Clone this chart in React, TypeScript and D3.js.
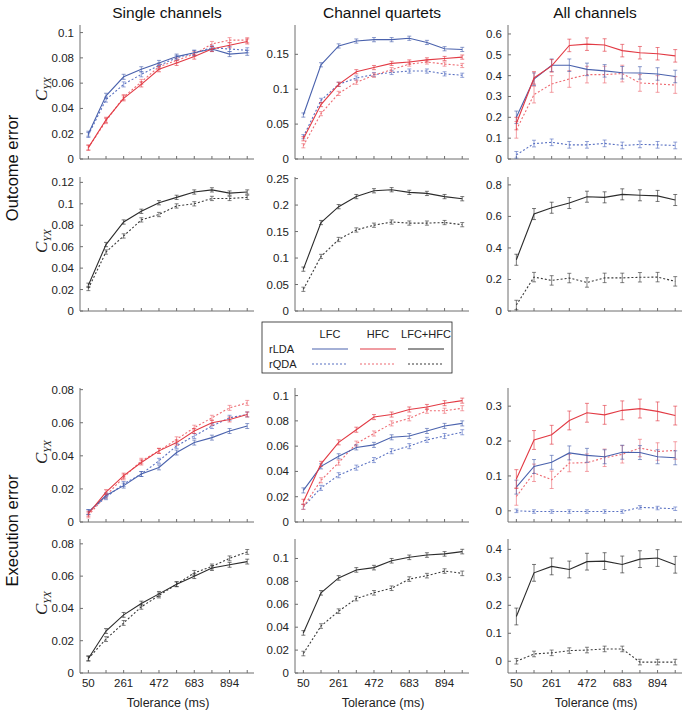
import * as d3 from 'd3'

const tolerance = [50, 155.5, 261, 366.5, 472, 577.5, 683, 788.5, 894, 999.5]
const labeledTicks = [50, 261, 472, 683, 894]
const columnTitles = ['Single channels', 'Channel quartets', 'All channels']
const rowTitles = ['Outcome error', 'Execution error']

// Outcome error, LFC / HFC separately
const oeSingleLdaLfc = [0.020, 0.050, 0.065, 0.071, 0.076, 0.081, 0.084, 0.087, 0.083, 0.084]
const oeSingleQdaLfc = [0.019, 0.047, 0.059, 0.067, 0.074, 0.080, 0.084, 0.088, 0.087, 0.086]
const oeSingleLdaHfc = [0.009, 0.031, 0.048, 0.059, 0.071, 0.076, 0.081, 0.087, 0.090, 0.093]
const oeSingleQdaHfc = [0.009, 0.030, 0.049, 0.061, 0.073, 0.078, 0.083, 0.091, 0.094, 0.094]
const oeQuartLdaLfc = [0.063, 0.135, 0.162, 0.169, 0.171, 0.171, 0.173, 0.167, 0.158, 0.157]
const oeQuartQdaLfc = [0.032, 0.084, 0.107, 0.116, 0.121, 0.124, 0.126, 0.126, 0.122, 0.120]
const oeQuartLdaHfc = [0.029, 0.078, 0.107, 0.125, 0.131, 0.137, 0.139, 0.142, 0.144, 0.146]
const oeQuartQdaHfc = [0.019, 0.065, 0.094, 0.110, 0.120, 0.128, 0.136, 0.139, 0.136, 0.134]
const oeAllLdaLfc = [0.200, 0.383, 0.450, 0.450, 0.430, 0.423, 0.414, 0.413, 0.408, 0.396]
const oeAllQdaLfc = [0.020, 0.074, 0.080, 0.068, 0.068, 0.075, 0.065, 0.070, 0.068, 0.065]
const oeAllLdaHfc = [0.170, 0.389, 0.447, 0.545, 0.551, 0.547, 0.520, 0.510, 0.505, 0.495]
const oeAllQdaHfc = [0.140, 0.309, 0.360, 0.384, 0.405, 0.405, 0.410, 0.365, 0.360, 0.355]

// Outcome error, LFC+HFC
const oeSingleLdaBoth = [0.024, 0.062, 0.083, 0.093, 0.101, 0.106, 0.111, 0.113, 0.110, 0.111]
const oeSingleQdaBoth = [0.021, 0.055, 0.070, 0.085, 0.090, 0.098, 0.100, 0.105, 0.105, 0.106]
const oeQuartLdaBoth = [0.079, 0.167, 0.197, 0.216, 0.227, 0.229, 0.224, 0.222, 0.216, 0.212]
const oeQuartQdaBoth = [0.041, 0.103, 0.135, 0.153, 0.162, 0.168, 0.166, 0.166, 0.167, 0.163]
const oeAllLdaBoth = [0.325, 0.615, 0.655, 0.685, 0.725, 0.721, 0.740, 0.734, 0.730, 0.704]
const oeAllQdaBoth = [0.038, 0.215, 0.194, 0.209, 0.181, 0.210, 0.210, 0.214, 0.215, 0.188]

// Execution error, LFC / HFC separately
const eeSingleLdaLfc = [0.006, 0.016, 0.022, 0.029, 0.033, 0.042, 0.048, 0.051, 0.055, 0.058]
const eeSingleQdaLfc = [0.006, 0.015, 0.023, 0.029, 0.037, 0.046, 0.052, 0.058, 0.063, 0.065]
const eeSingleLdaHfc = [0.005, 0.018, 0.028, 0.036, 0.043, 0.048, 0.055, 0.060, 0.062, 0.065]
const eeSingleQdaHfc = [0.004, 0.016, 0.027, 0.037, 0.043, 0.050, 0.057, 0.063, 0.069, 0.072]
const eeQuartLdaLfc = [0.025, 0.044, 0.052, 0.059, 0.061, 0.067, 0.068, 0.072, 0.076, 0.078]
const eeQuartQdaLfc = [0.012, 0.027, 0.037, 0.043, 0.049, 0.056, 0.060, 0.065, 0.068, 0.071]
const eeQuartLdaHfc = [0.016, 0.046, 0.063, 0.073, 0.083, 0.085, 0.089, 0.091, 0.094, 0.096]
const eeQuartQdaHfc = [0.012, 0.033, 0.047, 0.062, 0.070, 0.078, 0.082, 0.088, 0.088, 0.090]
const eeAllLdaLfc = [0.068, 0.127, 0.139, 0.166, 0.159, 0.155, 0.168, 0.167, 0.155, 0.152]
const eeAllQdaLfc = [0.000, -0.002, -0.002, -0.002, -0.002, -0.002, -0.002, 0.010, 0.008, 0.006]
const eeAllLdaHfc = [0.091, 0.203, 0.218, 0.259, 0.281, 0.275, 0.288, 0.293, 0.285, 0.273]
const eeAllQdaHfc = [0.041, 0.109, 0.089, 0.137, 0.138, 0.152, 0.162, 0.180, 0.170, 0.173]

// Execution error, LFC+HFC
const eeSingleLdaBoth = [0.009, 0.026, 0.036, 0.043, 0.049, 0.055, 0.060, 0.065, 0.067, 0.069]
const eeSingleQdaBoth = [0.009, 0.021, 0.031, 0.041, 0.048, 0.055, 0.062, 0.066, 0.071, 0.075]
const eeQuartLdaBoth = [0.035, 0.070, 0.083, 0.090, 0.092, 0.098, 0.101, 0.103, 0.104, 0.106]
const eeQuartQdaBoth = [0.017, 0.041, 0.054, 0.065, 0.070, 0.074, 0.082, 0.085, 0.089, 0.087]
const eeAllLdaBoth = [0.160, 0.316, 0.339, 0.328, 0.356, 0.358, 0.346, 0.365, 0.369, 0.345]
const eeAllQdaBoth = [0.000, 0.026, 0.030, 0.038, 0.040, 0.044, 0.044, -0.003, -0.003, -0.003]

const styleOf = {
  ldaLfc: { color: '#4a62ad', dash: null },
  qdaLfc: { color: '#5870c2', dash: '2,2' },
  ldaHfc: { color: '#e23a44', dash: null },
  qdaHfc: { color: '#ee6b72', dash: '2,2' },
  ldaBoth: { color: '#2b2b2b', dash: null },
  qdaBoth: { color: '#3a3a3a', dash: '2,2' },
}

type Series = { key: keyof typeof styleOf; values: number[]; err: number }
type Panel = { row: number; col: number; yDomain: [number, number]; yTicks: number[]; series: Series[] }

const four = (qLfc, qHfc, lLfc, lHfc, e): Series[] => [
  { key: 'qdaLfc', values: qLfc, err: e[0] },
  { key: 'qdaHfc', values: qHfc, err: e[1] },
  { key: 'ldaLfc', values: lLfc, err: e[2] },
  { key: 'ldaHfc', values: lHfc, err: e[3] },
]
const two = (q, l, e): Series[] => [
  { key: 'qdaBoth', values: q, err: e[0] },
  { key: 'ldaBoth', values: l, err: e[1] },
]

const panels: Panel[] = [
  { row: 0, col: 0, yDomain: [0, 0.106], yTicks: [0, 0.02, 0.04, 0.06, 0.08, 0.1],
    series: four(oeSingleQdaLfc, oeSingleQdaHfc, oeSingleLdaLfc, oeSingleLdaHfc, [0.002, 0.002, 0.002, 0.002]) },
  { row: 0, col: 1, yDomain: [0, 0.192], yTicks: [0, 0.05, 0.1, 0.15],
    series: four(oeQuartQdaLfc, oeQuartQdaHfc, oeQuartLdaLfc, oeQuartLdaHfc, [0.003, 0.003, 0.003, 0.003]) },
  { row: 0, col: 2, yDomain: [0, 0.643], yTicks: [0, 0.1, 0.2, 0.3, 0.4, 0.5, 0.6],
    series: four(oeAllQdaLfc, oeAllQdaHfc, oeAllLdaLfc, oeAllLdaHfc, [0.016, 0.04, 0.03, 0.03]) },
  { row: 1, col: 0, yDomain: [0, 0.125], yTicks: [0, 0.02, 0.04, 0.06, 0.08, 0.1, 0.12],
    series: two(oeSingleQdaBoth, oeSingleLdaBoth, [0.002, 0.002]) },
  { row: 1, col: 1, yDomain: [0, 0.253], yTicks: [0, 0.05, 0.1, 0.15, 0.2, 0.25],
    series: two(oeQuartQdaBoth, oeQuartLdaBoth, [0.004, 0.004]) },
  { row: 1, col: 2, yDomain: [0, 0.85], yTicks: [0, 0.2, 0.4, 0.6, 0.8],
    series: two(oeAllQdaBoth, oeAllLdaBoth, [0.03, 0.035]) },
  { row: 2, col: 0, yDomain: [0, 0.081], yTicks: [0, 0.02, 0.04, 0.06, 0.08],
    series: four(eeSingleQdaLfc, eeSingleQdaHfc, eeSingleLdaLfc, eeSingleLdaHfc, [0.0015, 0.0015, 0.0015, 0.0015]) },
  { row: 2, col: 1, yDomain: [0, 0.106], yTicks: [0, 0.02, 0.04, 0.06, 0.08, 0.1],
    series: four(eeQuartQdaLfc, eeQuartQdaHfc, eeQuartLdaLfc, eeQuartLdaHfc, [0.002, 0.002, 0.002, 0.002]) },
  { row: 2, col: 2, yDomain: [-0.032, 0.352], yTicks: [0, 0.1, 0.2, 0.3],
    series: four(eeAllQdaLfc, eeAllQdaHfc, eeAllLdaLfc, eeAllLdaHfc, [0.005, 0.025, 0.02, 0.027]) },
  { row: 3, col: 0, yDomain: [0, 0.083], yTicks: [0, 0.02, 0.04, 0.06, 0.08],
    series: two(eeSingleQdaBoth, eeSingleLdaBoth, [0.0015, 0.0015]) },
  { row: 3, col: 1, yDomain: [0, 0.117], yTicks: [0, 0.02, 0.04, 0.06, 0.08, 0.1],
    series: two(eeQuartQdaBoth, eeQuartLdaBoth, [0.002, 0.002]) },
  { row: 3, col: 2, yDomain: [-0.042, 0.437], yTicks: [0, 0.1, 0.2, 0.3, 0.4],
    series: two(eeAllQdaBoth, eeAllLdaBoth, [0.01, 0.03]) },
]

const legendCols = [
  { label: 'LFC', lda: 'ldaLfc', qda: 'qdaLfc' },
  { label: 'HFC', lda: 'ldaHfc', qda: 'qdaHfc' },
  { label: 'LFC+HFC', lda: 'ldaBoth', qda: 'qdaBoth' },
]

const FONT = 'Liberation Sans, Arial, Helvetica, sans-serif'
const colLeft = [80, 295, 508]
const rowTop = [25, 177, 388, 539]
const PW = 174
const PH = 134
const fmt = (v: number) => String(+v.toFixed(3))

function PanelView({ p }: { p: Panel }) {
  const x0 = colLeft[p.col]
  const y0 = rowTop[p.row]
  const x = d3.scaleLinear().domain([0, 1040]).range([x0, x0 + PW])
  const y = d3.scaleLinear().domain(p.yDomain).range([y0 + PH, y0])
  const line = d3.line<number>().x((_, i) => x(tolerance[i])).y((d) => y(d))
  const bottom = y0 + PH
  const axisColor = '#6e6e6e'
  return (
    <g>
      <line x1={x0} x2={x0} y1={y0} y2={bottom} stroke={axisColor} />
      <line x1={x0} x2={x0 + PW} y1={bottom} y2={bottom} stroke={axisColor} />
      {p.yTicks.map((t) => (
        <g key={t}>
          <line x1={x0} x2={x0 + 3} y1={y(t)} y2={y(t)} stroke={axisColor} />
          <text x={x0 - 6} y={y(t) + 4} textAnchor="end" fontSize={11.5} fill="#222">{fmt(t)}</text>
        </g>
      ))}
      {tolerance.map((t) => (
        <line key={t} x1={x(t)} x2={x(t)} y1={bottom} y2={bottom - 3} stroke={axisColor} />
      ))}
      {p.row === 3 && labeledTicks.map((t) => (
        <text key={t} x={x(t)} y={bottom + 14} textAnchor="middle" fontSize={11.5} fill="#222">{t}</text>
      ))}
      {p.series.map((s) => {
        const st = styleOf[s.key]
        return (
          <g key={s.key}>
            {s.values.map((v, i) => {
              const cx = x(tolerance[i])
              const lo = y(v - s.err)
              const hi = y(v + s.err)
              return (
                <g key={i} stroke={st.color} strokeOpacity={0.7} strokeWidth={0.9}>
                  <line x1={cx} x2={cx} y1={lo} y2={hi} />
                  <line x1={cx - 2} x2={cx + 2} y1={lo} y2={lo} />
                  <line x1={cx - 2} x2={cx + 2} y1={hi} y2={hi} />
                </g>
              )
            })}
            <path d={line(s.values) || ''} fill="none" stroke={st.color} strokeWidth={1.1}
              strokeDasharray={st.dash || undefined} />
          </g>
        )
      })}
      {p.col === 0 && (
        <text transform={`translate(${x0 - 33},${y0 + PH / 2 - 3}) rotate(-90)`} textAnchor="middle"
          fontFamily="Liberation Serif, Times New Roman, serif" fontStyle="italic" fill="#222">
          <tspan fontSize={17}>C</tspan>
          <tspan fontSize={11} dy={4}>YX</tspan>
        </text>
      )}
      {p.row === 3 && (
        <text x={x0 + PW / 2 + 1} y={bottom + 34} textAnchor="middle" fontSize={12.5} fill="#222">Tolerance (ms)</text>
      )}
    </g>
  )
}

function Legend() {
  const left = 262
  const top = 322
  const colX = [330, 378, 426]
  return (
    <g fontSize={11} fill="#222">
      <rect x={left} y={top} width={190} height={51} fill="#fff" stroke="#222" strokeWidth={0.8} />
      {legendCols.map((c, i) => (
        <g key={c.label}>
          <text x={colX[i]} y={top + 16} textAnchor="middle">{c.label}</text>
          <line x1={colX[i] - 18} x2={colX[i] + 18} y1={top + 27} y2={top + 27} stroke={styleOf[c.lda].color} strokeWidth={1.2} />
          <line x1={colX[i] - 18} x2={colX[i] + 18} y1={top + 42} y2={top + 42} stroke={styleOf[c.qda].color} strokeWidth={1.2} strokeDasharray="2,2" />
        </g>
      ))}
      <text x={left + 7} y={top + 31}>rLDA</text>
      <text x={left + 7} y={top + 46}>rQDA</text>
    </g>
  )
}

export default function App() {
  return (
    <svg width={689} height={715} style={{ position: 'absolute', left: 0, top: 0, background: '#fff' }} fontFamily={FONT}>
      {columnTitles.map((t, i) => (
        <text key={t} x={colLeft[i] + PW / 2} y={18} textAnchor="middle" fontSize={15.5} fill="#111">{t}</text>
      ))}
      <text transform={`translate(18,${(rowTop[0] + rowTop[1] + PH) / 2}) rotate(-90)`} textAnchor="middle" fontSize={16.5} fill="#111">{rowTitles[0]}</text>
      <text transform={`translate(18,${(rowTop[2] + rowTop[3] + PH) / 2}) rotate(-90)`} textAnchor="middle" fontSize={16.5} fill="#111">{rowTitles[1]}</text>
      {panels.map((p) => <PanelView key={`${p.row}-${p.col}`} p={p} />)}
      <Legend />
    </svg>
  )
}
